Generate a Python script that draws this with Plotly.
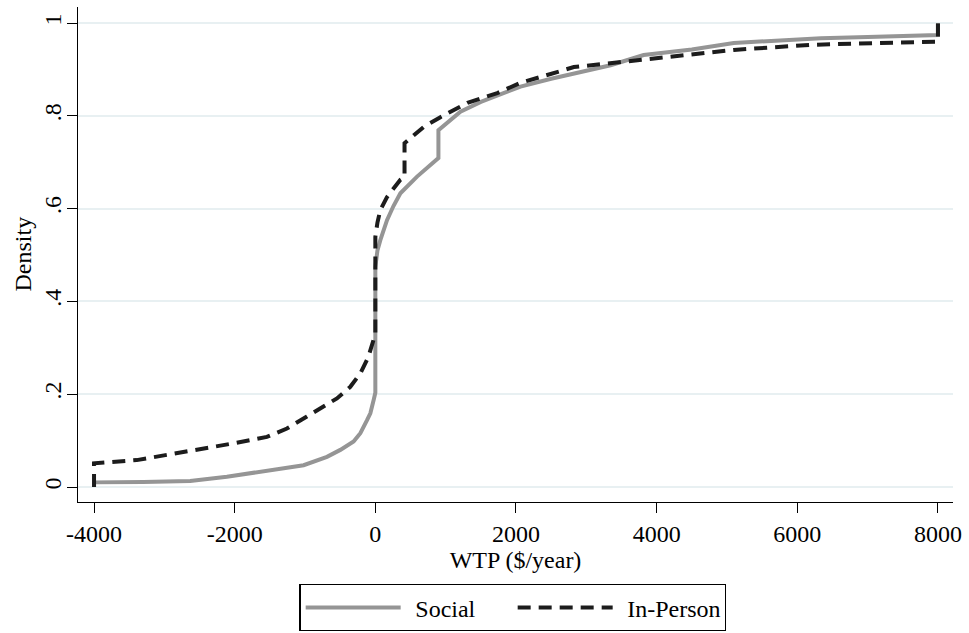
import plotly.graph_objects as go

# Social (gray solid) cumulative curve
social_x = [-4000, -4000, -3300, -2633, -2111, -1637, -1300, -1020, -688, -498, -309, -213, -118, -71, -24, 0, 0,
            30, 71, 166, 256, 356, 593, 897, 897, 1210, 1500, 2064, 2500, 3345, 3815, 4500, 5097, 6335, 7000, 8000, 8000]
social_y = [0, 0.010, 0.011, 0.013, 0.022, 0.033, 0.040, 0.047, 0.065, 0.080, 0.098, 0.116, 0.144, 0.159, 0.1875, 0.203, 0.474,
            0.51, 0.532, 0.575, 0.605, 0.633, 0.669, 0.709, 0.769, 0.809, 0.83, 0.863, 0.88, 0.909, 0.931, 0.943, 0.957, 0.967, 0.970, 0.974, 1.0]

# In-Person (black dashed) cumulative curve
inperson_x = [-4000, -4000, -3393, -3000, -2491, -2021, -1542, -1257, -973, -783, -546, -356, -213, -100, -47, 0, 0,
              30, 71, 166, 356, 415, 415, 688, 925, 1310, 1734, 2064, 2823, 3772, 5097, 6192, 7900, 8000, 8000]
inperson_y = [0, 0.051, 0.058, 0.068, 0.083, 0.094, 0.108, 0.126, 0.152, 0.170, 0.191, 0.216, 0.245, 0.28, 0.31, 0.33, 0.539,
              0.57, 0.597, 0.625, 0.662, 0.668, 0.741, 0.776, 0.797, 0.828, 0.849, 0.871, 0.905, 0.920, 0.942, 0.953, 0.959, 0.96, 1.0]

x_ticks = [-4000, -2000, 0, 2000, 4000, 6000, 8000]
x_labels = ["-4000", "-2000", "0", "2000", "4000", "6000", "8000"]
y_ticks = [0, 0.2, 0.4, 0.6, 0.8, 1.0]
y_labels = ["0", ".2", ".4", ".6", ".8", "1"]
x_title = "WTP ($/year)"
y_title = "Density"

FONT = "Liberation Serif"

fig = go.Figure()
fig.add_trace(go.Scatter(x=social_x, y=social_y, mode="lines", name="\u2009\u2009Social",
                         line=dict(color="#959595", width=4)))
fig.add_trace(go.Scatter(x=inperson_x, y=inperson_y, mode="lines", name="\u2009\u2009In-Person",
                         line=dict(color="#1c1c1c", width=4, dash="13px,8px")))

fig.update_layout(
    width=969, height=633,
    margin=dict(l=78, r=16, t=7, b=131),
    paper_bgcolor="white", plot_bgcolor="white",
    font=dict(family=FONT, size=24, color="black"),
    showlegend=True,
    legend=dict(orientation="h", x=0.497, xanchor="center",
                yref="container", y=0.0774, yanchor="top",
                bordercolor="black", borderwidth=1.3, bgcolor="white",
                font=dict(family=FONT, size=24), itemwidth=95,
                entrywidth=102, entrywidthmode="pixels",
                traceorder="normal"),
    xaxis=dict(range=[-4228, 8214], tickvals=x_ticks, ticktext=x_labels, automargin=False,
               showgrid=False, zeroline=False, showline=True, linecolor="black", linewidth=1.3,
               ticks="outside", ticklen=10, tickwidth=1.3, tickcolor="black",
               title=dict(text=x_title, font=dict(family=FONT, size=24), standoff=4)),
    yaxis=dict(range=[-0.0323, 1.0345], tickvals=y_ticks, ticktext=y_labels, tickangle=-90,
               automargin=False, ticklabelstandoff=-4,
               showgrid=True, gridcolor="#e8f0f2", gridwidth=1.5,
               zeroline=False, showline=True, linecolor="black", linewidth=1.3,
               ticks="outside", ticklen=10, tickwidth=1.3, tickcolor="black"),
    annotations=[dict(text=y_title, textangle=-90, xref="paper", yref="paper",
                      x=-0.064, y=0.5, xanchor="center", yanchor="middle",
                      showarrow=False, font=dict(family=FONT, size=24))],
)

fig.write_html("out.html", config={"displayModeBar": False},
               post_script="document.body.style.margin='0px';")
